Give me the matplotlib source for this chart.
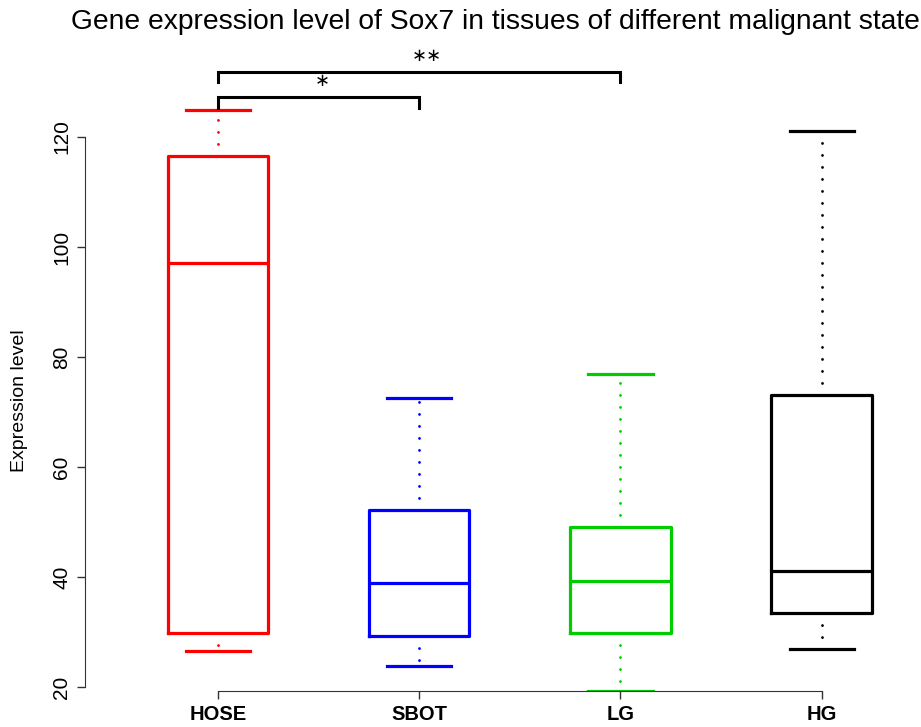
#!/usr/bin/env python3
"""
Boxplot of Sox7 expression across tissues of different malignant state.
"""

import matplotlib
matplotlib.use('Agg')
import matplotlib.pyplot as plt

# Summary statistics
groups = ['HOSE', 'SBOT', 'LG', 'HG']
colors = ['#FF0000', '#0000FF', '#00CD00', '#000000']
lower_whisker = [26.5, 23.8, 19.3, 26.9]
q1 = [29.8, 29.3, 29.8, 33.5]
median = [97.1, 38.9, 39.3, 41.1]
q3 = [116.5, 52.2, 49.1, 73.1]
upper_whisker = [124.9, 72.5, 76.9, 121.1]

y_ticks = [20, 40, 60, 80, 100, 120]

# Significance brackets: (left group, right group, label, leg bottom, bar height)
brackets = [(1, 2, '\u2217', 125.3, 127.2), (1, 3, '\u2217\u2217', 130.0, 131.9)]

plt.rcParams['font.family'] = ['Liberation Sans', 'DejaVu Sans']

W, H = 921, 727
fig = plt.figure(figsize=(W / 100, H / 100), dpi=100)

# axes placed in pixel space to mimic the R layout
left_px, right_px, top_px, bottom_px = 85, 921, 30, 691
ax = fig.add_axes([left_px / W, (H - bottom_px) / H,
                   (right_px - left_px) / W, (bottom_px - top_px) / H])

px_per_unit = 201.3
ax.set_xlim(0.34, 0.34 + (right_px - left_px) / px_per_unit)
ax.set_ylim(20 - (bottom_px - 687) / 5.5, 20 + (687 - top_px) / 5.5)

stats = []
for i, g in enumerate(groups):
    stats.append(dict(label=g, whislo=lower_whisker[i], q1=q1[i], med=median[i],
                      q3=q3[i], whishi=upper_whisker[i], fliers=[]))

positions = range(1, len(groups) + 1)
for i, (s, pos) in enumerate(zip(stats, positions)):
    c = colors[i]
    art = ax.bxp([s], positions=[pos], widths=0.5, capwidths=0.32, showfliers=False,
                 boxprops=dict(color=c, linewidth=2.3),
                 medianprops=dict(color=c, linewidth=2.3),
                 whiskerprops=dict(color=c, linewidth=2.0, linestyle=(0, (0.05, 4.27))),
                 capprops=dict(color=c, linewidth=2.3),
                 manage_ticks=False)
    for w in art['whiskers']:
        w.set_dash_capstyle('round')

# axes styling in base-R fashion
for side in ['top', 'right']:
    ax.spines[side].set_visible(False)
ax.spines['left'].set_bounds(20, 120)
ax.spines['bottom'].set_bounds(1, 4)
ax.spines['left'].set_color('#333333')
ax.spines['bottom'].set_color('#333333')

ax.set_yticks(y_ticks)
ax.set_yticklabels([str(t) for t in y_ticks], rotation=90, va='center', fontsize=15)
ax.set_xticks(list(positions))
ax.set_xticklabels(groups, fontsize=14.5, fontweight='bold')
ax.tick_params(axis='both', length=6, width=1, color='#333333')
ax.tick_params(axis='y', pad=4)
ax.tick_params(axis='x', pad=4)

fig.text(20 / W, 1 - 401 / H, 'Expression level', rotation=90,
         ha='center', va='center', fontsize=14)

fig.text(495 / W, 1 - 22 / H,
         'Gene expression level of Sox7 in tissues of different malignant state',
         ha='center', va='center', fontsize=20.3)

# significance brackets
for a, b, lab, y_low, y_high in brackets:
    ax.plot([a, a, b, b], [y_low, y_high, y_high, y_low], color='black',
            linewidth=2.2, clip_on=False, solid_joinstyle='miter')
    mid = (a + b) / 2 + 0.02 * len(lab)
    ax.text(mid, y_high + 2.9, lab, ha='center', va='center',
            fontsize=13, family=['DejaVu Sans'], clip_on=False)

fig.savefig('out.png', dpi=100)
